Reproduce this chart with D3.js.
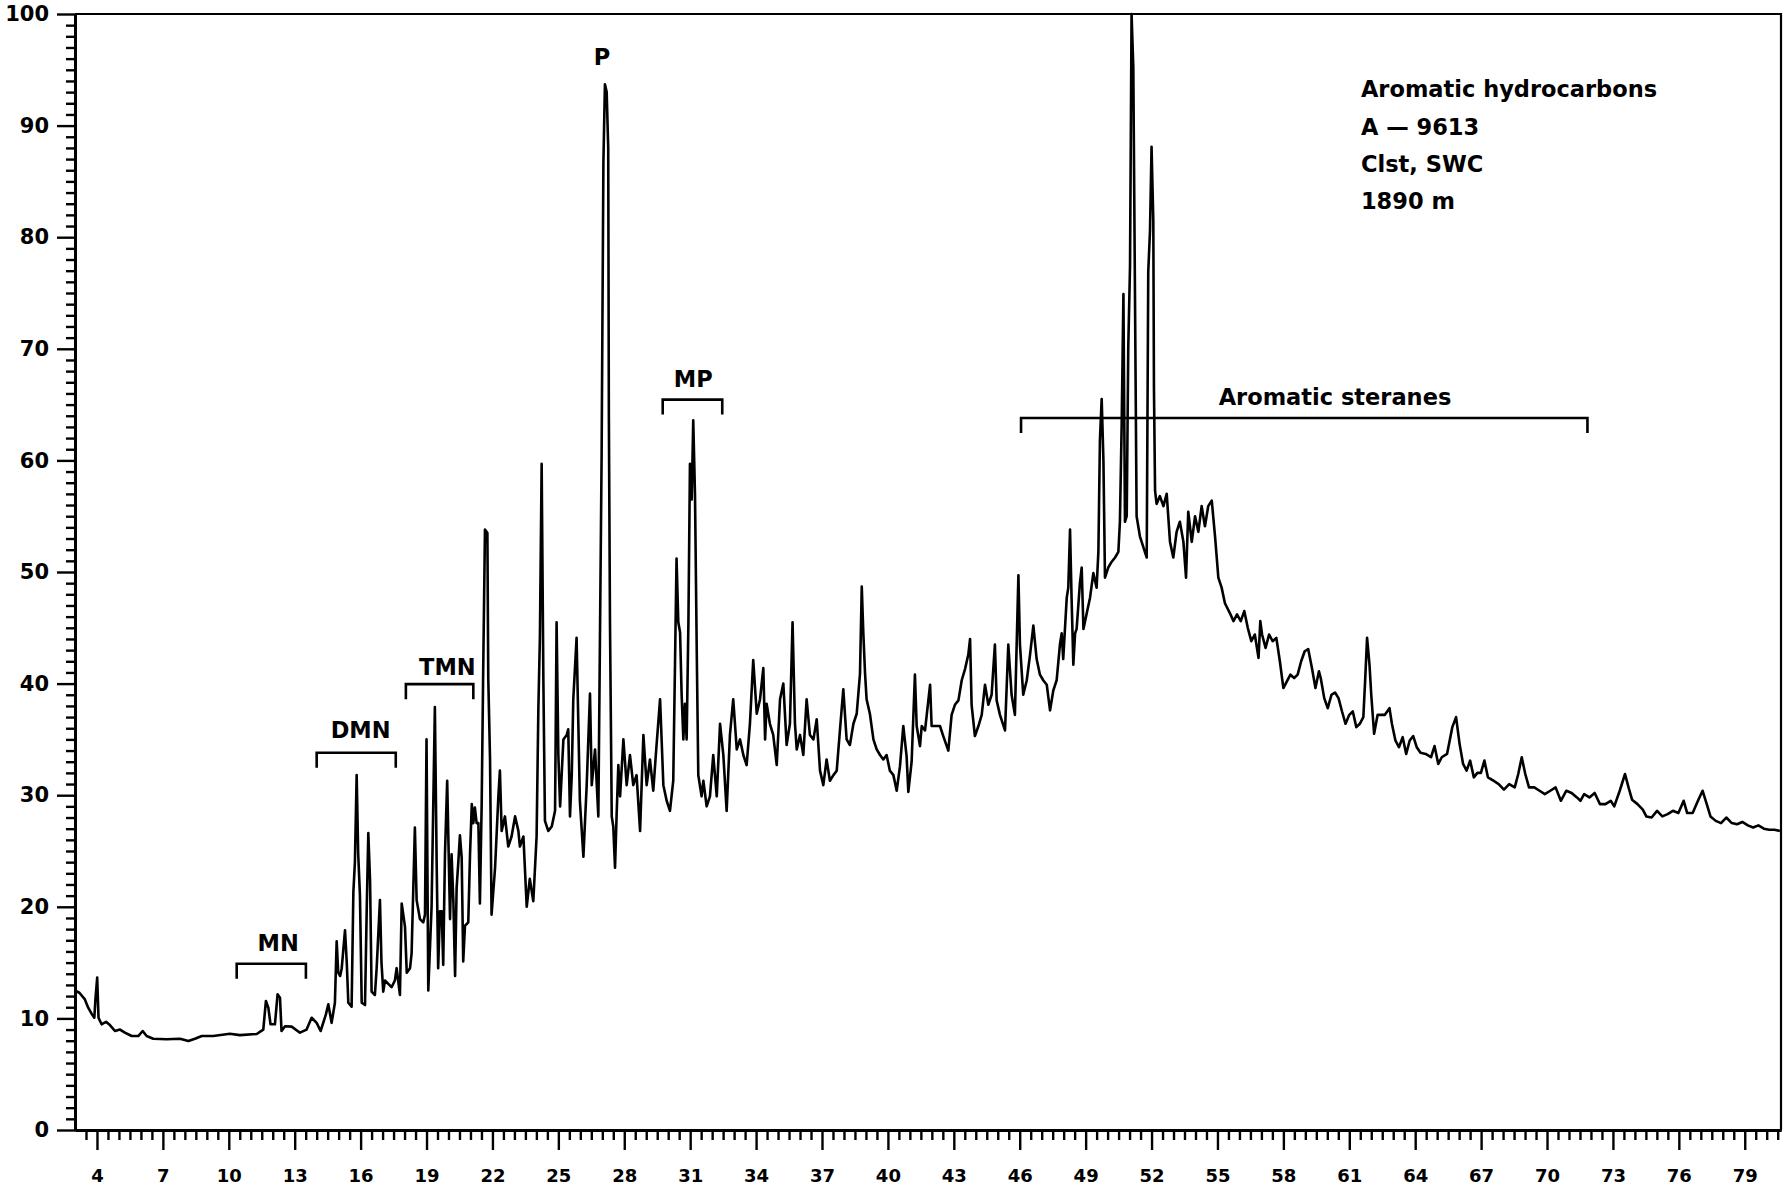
<!DOCTYPE html>
<html>
<head>
<meta charset="utf-8">
<script src="https://cdn.jsdelivr.net/npm/d3@7"></script>
<style>
  body { margin: 0; background: #fff; }
  svg { display: block; }
  .tick text { font-family: "DejaVu Sans", sans-serif; font-weight: bold; fill: #000; }
  .xaxis .tick text { font-size: 18px; }
  .yaxis .tick text { font-size: 21px; }
  .note { font-family: "DejaVu Sans", sans-serif; font-weight: bold; font-size: 22.5px; fill: #000; }
</style>
</head>
<body>
<div id="chart"></div>
<script>
// retention scale (x) and detector response (y)
var retention = [
  3.0, 3.2, 3.45, 3.6, 3.76, 3.88, 3.93, 4.01, 4.07, 4.21, 4.41, 4.59, 4.82, 5.05, 5.27, 5.58, 5.88, 6.08, 6.26, 6.56,
  7.17, 7.78, 8.16, 8.46, 8.77, 9.29, 10.05, 10.5, 11.27, 11.57, 11.69, 11.8, 11.9, 12.1, 12.22, 12.33, 12.4, 12.56, 12.86, 13.24,
  13.54, 13.77, 14.0, 14.18, 14.42, 14.53, 14.68,
  14.83, 14.91, 14.98, 15.07, 15.14, 15.29, 15.37, 15.44, 15.59, 15.67, 15.74, 15.82, 15.89, 15.97, 16.05, 16.2, 16.28, 16.35, 16.43, 16.5,
  16.65, 16.73, 16.88, 16.95, 17.03, 17.11, 17.26, 17.41, 17.56, 17.64, 17.79, 17.87, 18.02, 18.1, 18.25, 18.32, 18.47, 18.55, 18.7, 18.85,
  18.93, 19.0, 19.08, 19.23, 19.38, 19.46, 19.53, 19.61, 19.69, 19.76, 19.84, 19.94, 20.07, 20.14, 20.22, 20.3, 20.37, 20.45, 20.52, 20.6,
  20.67, 20.75, 20.9, 20.98, 21.06, 21.13, 21.2, 21.28, 21.36, 21.43, 21.51, 21.58, 21.66, 21.77, 21.81, 21.89, 21.96,
  22.12, 22.27, 22.34, 22.42, 22.57, 22.72, 22.87, 23.03, 23.18, 23.25, 23.41, 23.56, 23.7, 23.86, 24.01, 24.09, 24.16, 24.24, 24.32, 24.39,
  24.54, 24.7, 24.85, 24.92, 25.0, 25.08, 25.23, 25.38, 25.45, 25.53, 25.61, 25.68, 25.83, 25.91, 25.98, 26.14, 26.29, 26.44, 26.52, 26.67,
  26.82, 26.97, 27.05, 27.12, 27.2, 27.27, 27.3, 27.35, 27.43, 27.5, 27.58, 27.65, 27.73, 27.81, 27.96, 28.11, 28.26, 28.41, 28.56, 28.72,
  28.87, 29.02, 29.17, 29.32, 29.47, 29.63, 29.78, 29.93, 30.08, 30.23, 30.31, 30.38, 30.46, 30.54, 30.61, 30.69, 30.76, 30.84, 30.92, 30.99,
  31.07, 31.14, 31.22, 31.3, 31.37, 31.52, 31.6, 31.75, 31.9, 32.05, 32.21, 32.36, 32.51, 32.66, 32.81, 32.96, 33.12, 33.27, 33.42, 33.57,
  33.72, 33.87, 34.03, 34.18, 34.33, 34.41, 34.48, 34.63, 34.78, 34.94, 35.09, 35.24, 35.39, 35.54, 35.66, 35.77, 35.85, 36.0, 36.15, 36.3,
  36.45, 36.61, 36.76, 36.91, 37.06, 37.21, 37.36, 37.52, 37.67, 37.82, 37.97, 38.12, 38.27, 38.43, 38.58, 38.73, 38.81, 38.88, 38.96, 39.03,
  39.18, 39.34, 39.49, 39.64, 39.79, 39.94, 40.09, 40.25, 40.4,
  40.55, 40.7, 40.85, 40.93, 41.08, 41.23, 41.31, 41.46, 41.54, 41.69, 41.92, 41.99, 42.14, 42.37, 42.52, 42.75, 42.9, 43.05, 43.21, 43.36,
  43.51, 43.66, 43.74, 43.81, 43.96, 44.12, 44.27, 44.42, 44.57, 44.72, 44.87, 44.95, 45.1, 45.33, 45.48, 45.63, 45.78, 45.94, 46.01, 46.16,
  46.32, 46.47, 46.62, 46.77, 46.92, 47.07, 47.23, 47.38, 47.53, 47.68, 47.83, 47.91, 47.98, 48.14, 48.21, 48.29, 48.36, 48.44, 48.52, 48.59,
  48.74, 48.82, 48.9, 49.05, 49.2, 49.35, 49.5, 49.58, 49.65, 49.73, 49.81, 49.88, 50.03, 50.18, 50.34, 50.49, 50.56, 50.64, 50.72, 50.79,
  50.87, 50.94, 51.02, 51.09, 51.17, 51.25, 51.32, 51.47, 51.63, 51.78, 51.85, 51.93, 52.0, 52.08, 52.11, 52.16, 52.23, 52.38, 52.54, 52.69,
  52.84, 52.99, 53.14, 53.29, 53.45, 53.57, 53.67, 53.83, 53.98, 54.13, 54.28, 54.43, 54.58, 54.74, 54.89, 55.04, 55.19, 55.34, 55.57,
  55.73, 55.89, 56.06, 56.22, 56.38, 56.54, 56.7, 56.87, 56.95, 57.03, 57.19, 57.35, 57.51, 57.68, 57.84, 58.0, 58.16, 58.32, 58.49, 58.65,
  58.81, 58.97, 59.13, 59.3, 59.46, 59.62, 59.7, 59.86, 60.02, 60.19, 60.35, 60.51, 60.67, 60.83, 61.0, 61.16, 61.32, 61.48, 61.64, 61.72,
  61.81, 61.92, 62.0, 62.13, 62.29, 62.45, 62.62, 62.83, 62.94, 63.1, 63.26, 63.43, 63.59, 63.75, 63.91, 64.07, 64.24, 64.48, 64.72, 64.88,
  65.05, 65.21, 65.45, 65.69, 65.86, 66.02, 66.18, 66.34, 66.5, 66.67, 66.83, 66.99, 67.15, 67.31, 67.56, 67.8, 68.04, 68.28, 68.53, 68.69,
  68.85, 69.01, 69.18, 69.42, 69.66, 69.9, 70.15, 70.39, 70.63, 70.88, 71.12, 71.36, 71.52, 71.69, 71.93, 72.17, 72.41, 72.66, 72.9, 73.06,
  73.31, 73.55, 73.71, 73.87, 74.12, 74.36, 74.52, 74.76, 75.01, 75.25, 75.49, 75.73, 75.98, 76.22, 76.38, 76.63, 76.87, 77.08, 77.27, 77.44,
  77.68, 77.92, 78.16, 78.41, 78.65, 78.89, 79.14, 79.38, 79.62, 79.87, 80.11, 80.35, 80.6
];

var intensity = [
  12.5, 12.3, 11.7, 10.96, 10.4, 10.06, 11.7, 13.65, 10.06, 9.47, 9.7, 9.4, 8.87, 9.0, 8.72, 8.42, 8.42, 8.87, 8.42, 8.18,
  8.13, 8.18, 7.97, 8.18, 8.42, 8.42, 8.63, 8.5, 8.6, 9.0, 11.56, 10.96, 9.47, 9.47, 12.16, 11.86, 8.87, 9.3, 9.26, 8.72,
  9.0, 10.06, 9.6, 8.87, 10.36, 11.27, 9.6,
  11.4, 16.9, 14.1, 13.8, 14.5, 17.9, 15.0, 11.4, 11.05, 21.3, 24.0, 31.8, 24.75, 21.0, 11.4, 11.2, 20.0, 26.6, 22.35, 12.4,
  12.1, 14.5, 20.6, 15.0, 12.4, 13.4, 13.1, 12.8, 13.4, 14.5, 12.1, 20.3, 18.2, 14.1, 14.5, 15.8, 27.1, 20.6, 18.9, 18.6,
  19.3, 35.0, 12.5, 20.0, 37.9, 24.1, 14.5, 19.6, 19.6, 14.8, 24.7, 31.3, 18.9, 24.7, 20.6, 13.8, 21.7, 24.1, 26.4, 24.4,
  15.1, 18.3, 18.6, 24.7, 29.2, 27.5, 28.9, 27.5, 27.5, 20.3, 29.2, 41.2, 53.8, 53.5, 40.5, 33.3, 19.3,
  23.5, 29.9, 32.2, 26.8, 28.1, 25.4, 26.3, 28.1, 26.8, 25.4, 26.3, 20.0, 22.5, 20.5, 26.3, 37.7, 44.1, 59.7, 40.0, 27.7,
  26.8, 27.2, 28.6, 45.5, 33.6, 29.0, 35.0, 35.4, 35.9, 28.1, 31.8, 38.6, 44.1, 36.4, 29.5, 24.5, 30.9, 39.1, 30.9, 34.1,
  28.1, 60.6, 86.6, 93.7, 93.0, 88.0, 63.8, 45.5, 28.1, 27.2, 23.5, 28.1, 32.7, 29.9, 35.0, 30.9, 33.6, 30.9, 31.8, 26.8,
  35.4, 30.9, 33.2, 30.4, 34.5, 38.6, 30.9, 29.5, 28.6, 31.3, 41.8, 51.2, 45.5, 44.6, 39.1, 35.0, 38.2, 35.0, 45.5, 59.7,
  56.5, 63.6, 56.9, 42.8, 31.8, 29.9, 31.3, 29.0, 29.9, 33.6, 29.9, 36.4, 33.6, 28.6, 35.4, 38.6, 34.1, 35.0, 33.6, 32.7,
  36.4, 42.1, 37.3, 38.6, 41.4, 35.0, 38.2, 36.4, 35.4, 32.7, 38.6, 40.0, 34.5, 36.4, 45.5, 36.4, 34.1, 35.4, 33.6, 38.6,
  35.4, 35.0, 36.8, 32.2, 30.9, 33.2, 31.3, 31.8, 32.2, 35.9, 39.5, 35.0, 34.5, 36.4, 37.3, 40.9, 48.7, 44.6, 40.9, 38.6,
  37.3, 35.0, 34.1, 33.6, 33.2, 33.6, 32.2, 31.8, 30.4,
  32.6, 36.2, 33.5, 30.3, 33.0, 40.8, 36.2, 34.4, 36.2, 35.8, 39.9, 36.2, 36.2, 36.2, 35.3, 34.0, 37.2, 38.1, 38.5, 40.3,
  41.3, 42.6, 44.0, 38.1, 35.3, 36.2, 37.2, 39.9, 38.1, 39.0, 43.5, 38.5, 37.2, 35.8, 43.5, 39.0, 37.2, 49.7, 43.5, 39.0,
  40.3, 42.6, 45.2, 42.2, 40.8, 40.3, 39.9, 37.6, 39.4, 40.3, 43.5, 44.5, 42.2, 47.7, 48.6, 53.8, 47.7, 41.7, 44.5, 44.9,
  49.0, 50.4, 44.9, 46.3, 47.7, 49.9, 48.6, 51.8, 61.8, 65.5, 60.0, 49.5, 50.4, 50.9, 51.3, 51.8, 54.5, 63.2, 74.9, 54.5,
  55.0, 70.1, 77.4, 100, 95.2, 73.7, 55.0, 53.2, 52.2, 51.3, 76.9, 80.6, 88.1, 81.5, 66.4, 57.3, 56.1, 56.8, 55.9, 57.0,
  52.7, 51.3, 53.6, 54.5, 52.7, 49.5, 55.4, 52.7, 55.0, 53.6, 55.9, 54.1, 55.9, 56.4, 53.2, 49.5, 48.6, 47.2, 46.3,
  45.6, 46.2, 45.6, 46.5, 45.0, 43.8, 44.4, 42.3, 45.6, 44.4, 43.2, 44.4, 43.8, 44.1, 42.0, 39.6, 40.2, 40.8, 40.5, 40.8,
  42.0, 42.9, 43.1, 41.4, 39.6, 41.1, 40.5, 38.7, 37.8, 39.0, 39.2, 38.7, 37.5, 36.4, 37.2, 37.5, 36.1, 36.4, 37.0, 40.2,
  44.1, 41.7, 39.0, 35.5, 37.2, 37.2, 37.2, 37.8, 36.4, 34.9, 34.3, 35.2, 33.7, 34.9, 35.3, 34.3, 33.8, 33.7, 33.4, 34.4,
  32.8, 33.4, 33.7, 36.1, 37.0, 34.6, 32.8, 32.2, 33.1, 31.6, 32.0, 32.0, 33.1, 31.6, 31.3, 31.0, 30.5, 31.0, 30.7, 31.9,
  33.4, 31.9, 30.7, 30.7, 30.4, 30.1, 30.4, 30.7, 29.5, 30.4, 30.2, 29.8, 29.5, 30.1, 29.8, 30.2, 29.2, 29.2, 29.5, 29.0,
  30.4, 31.9, 30.7, 29.6, 29.2, 28.7, 28.1, 28.0, 28.6, 28.1, 28.3, 28.6, 28.4, 29.5, 28.4, 28.4, 29.5, 30.4, 29.2, 28.1,
  27.7, 27.5, 28.0, 27.5, 27.4, 27.6, 27.3, 27.1, 27.3, 27.0, 26.9, 26.9, 26.8
];

// tick labels
var xTickLabels = d3.range(4, 80, 3);
var yTickLabels = d3.range(0, 101, 10);

// compound groups marked above the trace
var groupNames = ["MN", "DMN", "TMN", "MP", "Aromatic steranes"];
var groupFrom = [10.36, 14.0, 18.06, 29.75, 46.06];
var groupTo = [13.51, 17.6, 21.13, 32.46, 71.84];
var groupLevel = [14.9, 33.8, 39.95, 65.45, 63.8];
var groupLabelAt = [12.25, 16.0, 19.95, 31.14, 60.35];
var groupLabelLevel = [16.0, 35.1, 40.8, 66.6, 64.95];

var singlePeak = ["P"];
var singlePeakAt = [26.99];
var singlePeakLevel = [95.4];

var sampleInfo = ["Aromatic hydrocarbons", "A \u2014 9613", "Clst, SWC", "1890 m"];

(function() {
  var width = 1788,
      height = 1191;

  var svg = d3.select("#chart")
    .append("svg")
    .attr("width", width)
    .attr("height", height)

  var x = d3.scaleLinear().domain([3, 80.65]).range([75, 1781])
  var y = d3.scaleLinear().domain([0, 100]).range([1130, 14])

  var trace = retention.map(function(t, i) {
    return { t: t, v: intensity[i] }
  })

  // frame on top and right
  svg.append("path")
    .attr("d", "M" + x(3) + "," + y(100) + "H" + x(80.65) + "V" + y(0))
    .attr("fill", "none")
    .attr("stroke", "#000")
    .attr("stroke-width", 2.2)

  // x axis: minor every 0.5, labelled every 3
  var minorX = d3.range(3.5, 80.6, 0.5).filter(function(d) {
    return xTickLabels.indexOf(d) < 0
  })

  svg.append("g")
    .attr("class", "axis")
    .attr("transform", "translate(0," + y(0) + ")")
    .call(d3.axisBottom(x).tickValues(minorX).tickSize(10).tickSizeOuter(0).tickFormat(""))

  svg.append("g")
    .attr("class", "axis xaxis")
    .attr("transform", "translate(0," + y(0) + ")")
    .call(d3.axisBottom(x).tickValues(xTickLabels).tickSize(20).tickSizeOuter(0).tickPadding(19).tickFormat(d3.format("d")))

  // y axis: minor every 1, labelled every 10
  var minorY = d3.range(1, 100, 1).filter(function(d) {
    return d % 10 !== 0
  })

  svg.append("g")
    .attr("class", "axis")
    .attr("transform", "translate(" + x(3) + ",0)")
    .call(d3.axisLeft(y).tickValues(minorY).tickSize(9).tickSizeOuter(0).tickFormat(""))

  svg.append("g")
    .attr("class", "axis yaxis")
    .attr("transform", "translate(" + x(3) + ",0)")
    .call(d3.axisLeft(y).tickValues(yTickLabels).tickSize(18).tickSizeOuter(0).tickPadding(8).tickFormat(d3.format("d")))

  svg.selectAll(".axis .domain").attr("stroke-width", 3)
  svg.selectAll(".axis .tick line").attr("stroke-width", 2.4)

  // the chromatogram trace
  var line = d3.line()
    .x(function(d) { return x(d.t) })
    .y(function(d) { return y(d.v) })

  svg.append("path")
    .datum(trace)
    .attr("d", line)
    .attr("fill", "none")
    .attr("stroke", "#000")
    .attr("stroke-width", 2.6)
    .attr("stroke-linejoin", "round")

  // group brackets
  var drop = 15
  groupNames.forEach(function(name, i) {
    var x0 = x(groupFrom[i]), x1 = x(groupTo[i]), yy = y(groupLevel[i])
    svg.append("path")
      .attr("d", "M" + x0 + "," + (yy + drop) + "V" + yy + "H" + x1 + "V" + (yy + drop))
      .attr("fill", "none")
      .attr("stroke", "#000")
      .attr("stroke-width", 2.6)

    svg.append("text")
      .attr("class", "note")
      .attr("x", x(groupLabelAt[i]))
      .attr("y", y(groupLabelLevel[i]))
      .attr("text-anchor", "middle")
      .text(name)
  })

  svg.selectAll(".peak")
    .data(singlePeak)
    .enter().append("text")
    .attr("class", "note peak")
    .attr("x", function(d, i) { return x(singlePeakAt[i]) })
    .attr("y", function(d, i) { return y(singlePeakLevel[i]) })
    .attr("text-anchor", "middle")
    .text(function(d) { return d })

  // sample description, top right
  svg.selectAll(".info")
    .data(sampleInfo)
    .enter().append("text")
    .attr("class", "note info")
    .attr("x", x(61.53))
    .attr("y", function(d, i) { return y(92.55) + i * 37.4 })
    .text(function(d) { return d })
})();
</script>
</body>
</html>
